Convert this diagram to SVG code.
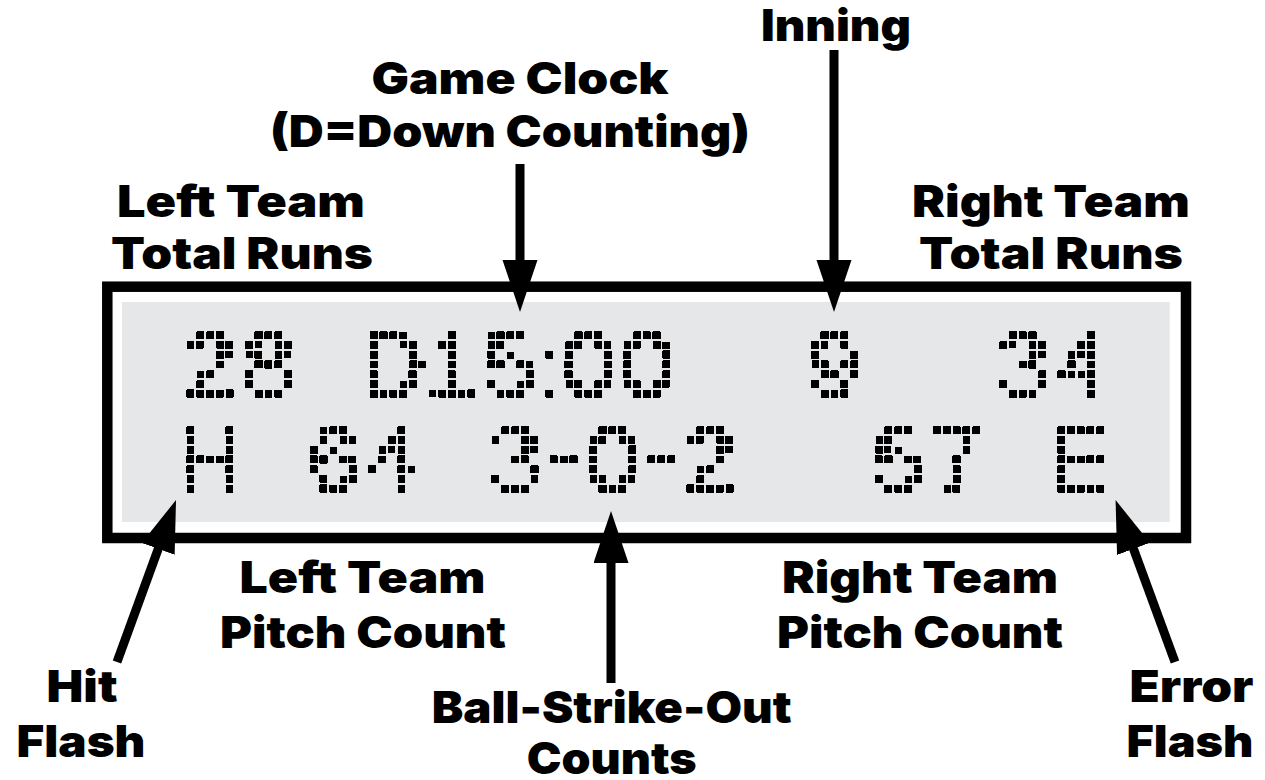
<svg xmlns="http://www.w3.org/2000/svg" width="1265" height="780" viewBox="0 0 1265 780">
<defs>
<style>
.lbl{font-family:Inter,Roboto,"Liberation Sans",sans-serif;font-weight:900;font-size:44px;fill:#000;text-anchor:middle}
.lcd{font-family:"Liberation Sans",Arial,sans-serif;font-size:90px;text-anchor:middle;fill:url(#samp);stroke:url(#samp);stroke-width:2;filter:url(#dm)}
.conn{stroke:#000;stroke-width:9;fill:none}
</style>
<pattern id="samp" patternUnits="userSpaceOnUse" x="0" y="0" width="9.75" height="9.75">
<rect x="2.6" y="2.6" width="1.3" height="1.3" fill="#000"/>
</pattern>
<filter id="dm" x="-0.2" y="-0.2" width="1.4" height="1.4" color-interpolation-filters="sRGB">
<feMorphology in="SourceAlpha" operator="dilate" radius="3" result="d"/>
<feComponentTransfer in="d"><feFuncA type="discrete" tableValues="0 0 1 1 1 1 1 1 1 1"/></feComponentTransfer>
</filter>
<marker id="ah" markerUnits="userSpaceOnUse" markerWidth="54" markerHeight="36" refX="2" refY="17.5" orient="auto">
<path d="M0,0 L52,17.5 L0,35 Z" fill="#000"/>
</marker>
</defs>
<rect width="1265" height="780" fill="#fff"/>

<g id="display">
<rect x="107.3" y="286.7" width="1078.7" height="251.3" fill="#fff" stroke="#000" stroke-width="10.5"/>
<rect x="122" y="302" width="1047.7" height="220" fill="#e6e7e8"/>
<g transform="translate(187.3,332)"><text class="lcd" x="22.75 81.25" y="64">28</text></g>
<g transform="translate(370.6,332)"><text class="lcd" x="22.75 81.25 139.75 178.75 217.75 276.25" y="64">D15:00</text></g>
<g transform="translate(811.8,332)"><text class="lcd" x="22.75" y="64">9</text></g>
<g transform="translate(1000,332)"><text class="lcd" x="22.75 81.25" y="64">34</text></g>
<g transform="translate(187.3,427)"><text class="lcd" x="22.75" y="64">H</text></g>
<g transform="translate(310.5,427)"><text class="lcd" x="22.75 81.25" y="64">64</text></g>
<g transform="translate(492.3,427)"><text class="lcd" x="22.75 71.5 120.25 169 217.75" y="64 57 64 57 64">3-0-2</text></g>
<g transform="translate(875.5,427)"><text class="lcd" x="22.75 81.25" y="64">57</text></g>
<g transform="translate(1058,427)"><text class="lcd" x="22.75" y="64">E</text></g>
</g>

<g id="connectors">
<line class="conn" x1="834" y1="50" x2="834" y2="262" marker-end="url(#ah)"/>
<line class="conn" x1="520" y1="164" x2="520" y2="262" marker-end="url(#ah)"/>
<line class="conn" x1="611" y1="683" x2="611" y2="561" marker-end="url(#ah)"/>
<line class="conn" x1="117" y1="662" x2="158.9" y2="547" marker-end="url(#ah)"/>
<line class="conn" x1="1175" y1="662" x2="1132.8" y2="547" marker-end="url(#ah)"/>
</g>

<g id="inning"><text class="lbl" x="836" y="41" textLength="150" lengthAdjust="spacingAndGlyphs">Inning</text></g>
<g id="game-clock">
<text class="lbl" x="520" y="94" textLength="297" lengthAdjust="spacingAndGlyphs">Game Clock</text>
<text class="lbl" x="510" y="147" textLength="480" lengthAdjust="spacingAndGlyphs">(D=Down Counting)</text>
</g>
<g id="left-total-runs">
<text class="lbl" x="241" y="217" textLength="248" lengthAdjust="spacingAndGlyphs">Left Team</text>
<text class="lbl" x="242" y="269" textLength="262" lengthAdjust="spacingAndGlyphs">Total Runs</text>
</g>
<g id="right-total-runs">
<text class="lbl" x="1051" y="217" textLength="278" lengthAdjust="spacingAndGlyphs">Right Team</text>
<text class="lbl" x="1051" y="269" textLength="264" lengthAdjust="spacingAndGlyphs">Total Runs</text>
</g>
<g id="left-pitch-count">
<text class="lbl" x="362.5" y="593" textLength="246" lengthAdjust="spacingAndGlyphs">Left Team</text>
<text class="lbl" x="363" y="648" textLength="286" lengthAdjust="spacingAndGlyphs">Pitch Count</text>
</g>
<g id="right-pitch-count">
<text class="lbl" x="920" y="593" textLength="276" lengthAdjust="spacingAndGlyphs">Right Team</text>
<text class="lbl" x="920" y="648" textLength="286" lengthAdjust="spacingAndGlyphs">Pitch Count</text>
</g>
<g id="hit-flash">
<text class="lbl" x="82" y="702" textLength="71" lengthAdjust="spacingAndGlyphs">Hit</text>
<text class="lbl" x="81" y="757" textLength="129" lengthAdjust="spacingAndGlyphs">Flash</text>
</g>
<g id="error-flash">
<text class="lbl" x="1191.5" y="702" textLength="124" lengthAdjust="spacingAndGlyphs">Error</text>
<text class="lbl" x="1190" y="757" textLength="127" lengthAdjust="spacingAndGlyphs">Flash</text>
</g>
<g id="ball-strike-out">
<text class="lbl" x="611.7" y="723" textLength="360" lengthAdjust="spacingAndGlyphs">Ball-Strike-Out</text>
<text class="lbl" x="611.7" y="774" textLength="170" lengthAdjust="spacingAndGlyphs">Counts</text>
</g>
</svg>
